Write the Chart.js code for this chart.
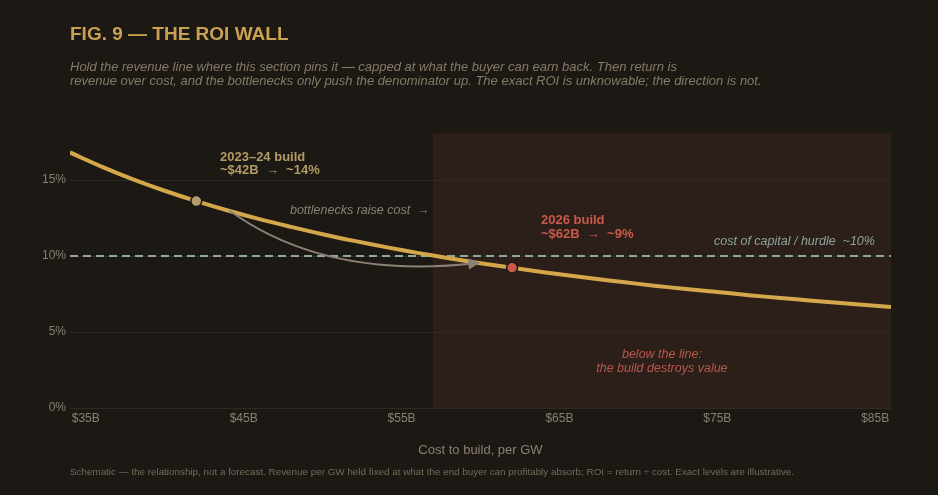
<!DOCTYPE html>
<html>
<head>
<meta charset="utf-8">
<script src="https://cdn.jsdelivr.net/npm/chart.js@4"></script>
<style>
  html, body { margin: 0; padding: 0; background: #1c1814; }
  #wrap { position: relative; width: 938px; height: 495px; }
  canvas { display: block; }
</style>
</head>
<body>
<div id="wrap"><canvas id="c" width="938" height="495"></canvas></div>
<script>
// ---- data ----
const costs = [34,36,38,40,42,44,46,48,50,52,54,56,58,60,62,64,66,68,70,72,74,76,78,80,82,84,86];
const roi   = [16.82,15.89,15.05,14.30,13.62,13.00,12.43,11.92,11.44,11.00,10.59,10.21,9.86,9.53,9.23,8.94,8.67,8.41,8.17,7.94,7.73,7.53,7.33,7.15,6.98,6.81,6.65];
const hurdleRate = 10;
const xTicks = [35,45,55,65,75,85];
const yTicks = [0,5,10,15];
const build2324 = { cost: 42, roi: 13.62 };
const build2026 = { cost: 62, roi: 9.23 };
const wallStart = 57;
const arrowPath = { from: [44.1, 13.0], ctrl: [50.2, 8.4], to: [59.8, 9.55] };

const FONT = '"Liberation Sans", Arial, Helvetica, sans-serif';
const BG = '#1c1814';

const overlay = {
  id: 'overlay',
  beforeDraw(chart) {
    const { ctx, chartArea: a, scales: { x, y } } = chart;
    ctx.save();
    ctx.fillStyle = BG;
    ctx.fillRect(0, 0, chart.width, chart.height);
    ctx.fillStyle = '#2c1f1a';
    const x0 = x.getPixelForValue(wallStart);
    ctx.fillRect(x0, a.top, a.right - x0, a.bottom - a.top);
    ctx.restore();
  },
  afterDatasetsDraw(chart) {
    const { ctx, scales: { x, y } } = chart;
    const P = (v) => [x.getPixelForValue(v[0]), y.getPixelForValue(v[1])];
    ctx.save();
    const p0 = P(arrowPath.from), c = P(arrowPath.ctrl), p2 = P(arrowPath.to);
    ctx.strokeStyle = '#8a8274';
    ctx.lineWidth = 2;
    ctx.beginPath();
    ctx.moveTo(p0[0], p0[1]);
    ctx.quadraticCurveTo(c[0], c[1], p2[0], p2[1]);
    ctx.stroke();
    const ang = Math.atan2(p2[1] - c[1], p2[0] - c[0]);
    ctx.fillStyle = '#8a8274';
    ctx.translate(p2[0], p2[1]);
    ctx.rotate(ang);
    ctx.beginPath();
    ctx.moveTo(3, 0);
    ctx.lineTo(-9, -5.5);
    ctx.lineTo(-9, 5.5);
    ctx.closePath();
    ctx.fill();
    ctx.restore();
  },
  afterDraw(chart) {
    const { ctx, chartArea: a, scales: { x, y } } = chart;
    const T = (txt, cx, cy, font, color, align) => {
      ctx.font = font; ctx.fillStyle = color;
      ctx.textAlign = align || 'left'; ctx.textBaseline = 'middle';
      ctx.fillText(txt, cx, cy);
    };
    const X = (v) => x.getPixelForValue(v), Y = (v) => y.getPixelForValue(v);
    ctx.save();
    T('FIG. 9 — THE ROI WALL', 70, 35, 'bold 19px ' + FONT, '#c9a150');
    T('Hold the revenue line where this section pins it — capped at what the buyer can earn back. Then return is', 70, 67, 'italic 13px ' + FONT, '#857a66');
    T('revenue over cost, and the bottlenecks only push the denominator up. The exact ROI is unknowable; the direction is not.', 70, 81, 'italic 13px ' + FONT, '#857a66');
    T('2023–24 build', X(43.5), Y(16.5), 'bold 13px ' + FONT, '#b29a66');
    T('~$42B  →  ~14%', X(43.5), Y(15.65), 'bold 13px ' + FONT, '#b29a66');
    T('bottlenecks raise cost  →', X(47.93), Y(13.03), 'italic 12.5px ' + FONT, '#8a8070');
    T('2026 build', X(63.83), Y(12.37), 'bold 13px ' + FONT, '#c95a4a');
    T('~$62B  →  ~9%', X(63.83), Y(11.45), 'bold 13px ' + FONT, '#c95a4a');
    T('cost of capital / hurdle  ~10%', X(84.98), Y(10.99), 'italic 12.5px ' + FONT, '#8ea29c', 'right');
    T('below the line:', X(71.49), Y(3.55), 'italic 12.5px ' + FONT, '#b9584a', 'center');
    T('the build destroys value', X(71.49), Y(2.63), 'italic 12.5px ' + FONT, '#b9584a', 'center');
    T('Cost to build, per GW', (a.left + a.right) / 2, 450, '13px ' + FONT, '#8a8070', 'center');
    T('Schematic — the relationship, not a forecast. Revenue per GW held fixed at what the end buyer can profitably absorb; ROI = return ÷ cost. Exact levels are illustrative.', 70, 472, '9.85px ' + FONT, '#756b5a');
    ctx.restore();
  }
};

new Chart(document.getElementById('c'), {
  type: 'line',
  data: {
    datasets: [
      {
        label: 'hurdle',
        data: [{ x: 34, y: hurdleRate }, { x: 86, y: hurdleRate }],
        borderColor: '#8fa7a1',
        borderWidth: 2,
        borderDash: [8, 5],
        pointRadius: 0,
        order: 3
      },
      {
        label: 'ROI',
        data: costs.map((c, i) => ({ x: c, y: roi[i] })),
        borderColor: '#d4a74b',
        borderWidth: 4,
        tension: 0.4,
        pointRadius: 0,
        order: 2
      },
      {
        label: 'builds',
        data: [{ x: build2324.cost, y: build2324.roi }, { x: build2026.cost, y: build2026.roi }],
        showLine: false,
        pointRadius: 5.5,
        pointBackgroundColor: ['#b59c6a', '#cc5a4c'],
        pointBorderColor: BG,
        pointBorderWidth: 1.5,
        order: 1
      }
    ]
  },
  options: {
    responsive: false,
    animation: false,
    devicePixelRatio: 1,
    layout: { padding: { left: 0, right: 47, top: 133, bottom: 57 } },
    plugins: { legend: { display: false }, tooltip: { enabled: false } },
    scales: {
      x: {
        type: 'linear', min: 34, max: 86,
        afterBuildTicks: (s) => { s.ticks = xTicks.map(v => ({ value: v })); },
        afterFit: (s) => { s.height = 30; },
        grid: { display: false, drawTicks: false, tickLength: 0 },
        border: { display: false },
        ticks: { color: '#8a8070', font: { family: FONT, size: 12 }, padding: 3, maxRotation: 0,
                 callback: (v) => '$' + v + 'B' }
      },
      y: {
        type: 'linear', min: 0, max: 18.1,
        afterBuildTicks: (s) => { s.ticks = yTicks.map(v => ({ value: v })); },
        afterFit: (s) => { s.width = 70; },
        grid: { color: '#2f2a22', lineWidth: 1, drawTicks: false },
        border: { display: false },
        ticks: { color: '#8a8070', font: { family: FONT, size: 12 }, padding: 4,
                 callback: (v) => v + '%' }
      }
    }
  },
  plugins: [overlay]
});
</script>
</body>
</html>
